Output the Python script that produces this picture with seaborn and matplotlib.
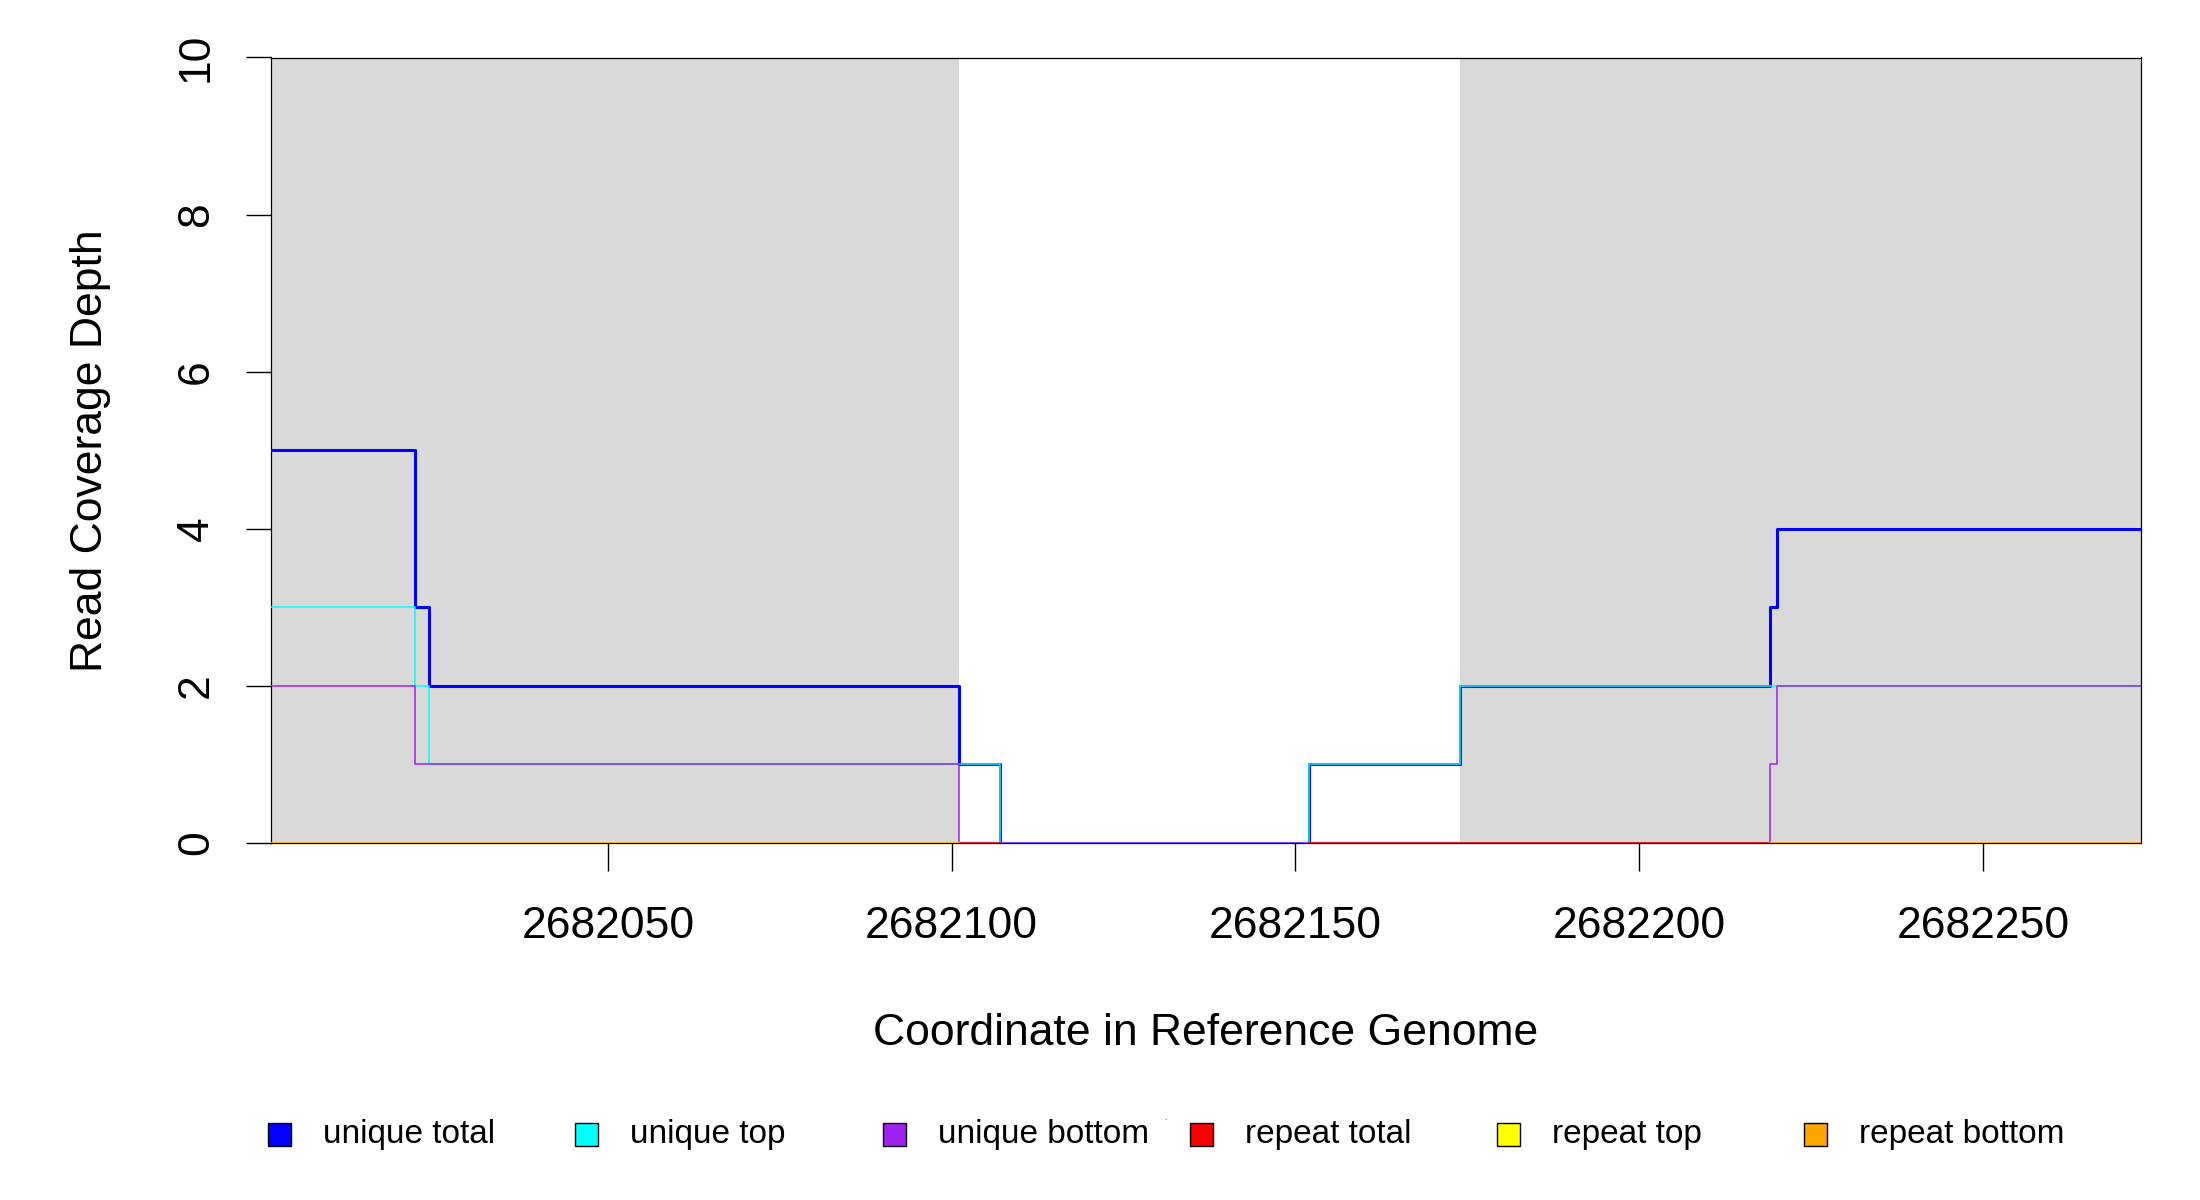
import numpy as np
import pandas as pd
import matplotlib
matplotlib.use("Agg")
import matplotlib.pyplot as plt
import seaborn as sns
from matplotlib.patches import Rectangle

# ---------------- data ----------------
x_start, x_end = 2682001, 2682273
gray_regions = [(2682001, 2682101), (2682174, 2682273)]

unique_total_edges = [2682001, 2682022, 2682024, 2682101, 2682107, 2682152, 2682174, 2682219, 2682220, 2682273]
unique_total_vals = [5, 3, 2, 1, 0, 1, 2, 3, 4]

unique_top_edges = [2682001, 2682022, 2682024, 2682107, 2682152, 2682174, 2682273]
unique_top_vals = [3, 2, 1, 0, 1, 2]

unique_bottom_edges = [2682001, 2682022, 2682101, 2682219, 2682220, 2682273]
unique_bottom_vals = [2, 1, 0, 1, 2]

# repeat series only visible over parts of the window (value 0)
repeat_total_segments = [(2682101, 2682107, 0), (2682152, 2682273, 0)]
repeat_top_segments = [(2682001, 2682101, 0), (2682219, 2682273, 0)]
repeat_bottom_segments = [(2682001, 2682101, 0), (2682219, 2682273, 0)]

x_ticks = [2682050, 2682100, 2682150, 2682200, 2682250]
y_ticks = [0, 2, 4, 6, 8, 10]

legend_labels = ["unique total", "unique top", "unique bottom", "repeat total", "repeat top", "repeat bottom"]
colors = {"unique total": "#0000ff", "unique top": "#00ffff", "unique bottom": "#a020f0",
          "repeat total": "#ff0000", "repeat top": "#ffff00", "repeat bottom": "#ffa500"}

# ---------------- style ----------------
sns.set_theme(style="white")
plt.rcParams["font.family"] = ["Liberation Sans", "DejaVu Sans"]
plt.rcParams["text.color"] = "black"
plt.rcParams["axes.labelcolor"] = "black"
plt.rcParams["xtick.color"] = "black"
plt.rcParams["ytick.color"] = "black"

fig = plt.figure(figsize=(22, 12), dpi=100)
ax = fig.add_axes([271 / 2200, 1 - 843 / 1200, (2141 - 271) / 2200, (843 - 57.5) / 1200])

for a, b in gray_regions:
    ax.axvspan(a, b, ymin=0, ymax=1, color="#d9d9d9", lw=0, zorder=0)


def step_df(edges, vals):
    return pd.DataFrame({"x": edges, "y": list(vals) + [vals[-1]]})


def draw(df, color, lw):
    sns.lineplot(data=df, x="x", y="y", ax=ax, color=color, lw=lw,
                 drawstyle="steps-post", estimator=None, sort=False, zorder=3)


draw(step_df(unique_total_edges, unique_total_vals), colors["unique total"], 2.2)
draw(step_df(unique_top_edges, unique_top_vals), colors["unique top"], 1.1)
draw(step_df(unique_bottom_edges, unique_bottom_vals), colors["unique bottom"], 1.1)
for segs, name in [(repeat_total_segments, "repeat total"),
                   (repeat_top_segments, "repeat top"),
                   (repeat_bottom_segments, "repeat bottom")]:
    for a, b, v in segs:
        draw(step_df([a, b], [v]), colors[name], 1.1)

ax.set_xlim(x_start, x_end)
ax.set_ylim(0, 10)
ax.set_xticks(x_ticks, labels=[str(t) for t in x_ticks])
ax.set_yticks(y_ticks, labels=[str(t) for t in y_ticks], rotation=90, va="center")
ax.tick_params(axis="x", direction="out", length=20, width=1.0, pad=25, labelsize=32, color="black",
               labelcolor="black")
ax.tick_params(axis="y", direction="out", length=18, width=1.0, pad=21, labelsize=32, color="black",
               labelcolor="black")
ax.tick_params(bottom=True, left=True)
for s in ax.spines.values():
    s.set_color("black")
    s.set_linewidth(0.9)
ax.set_xlabel("Coordinate in Reference Genome", fontsize=32, labelpad=48, color="black")
ax.set_ylabel("Read Coverage Depth", fontsize=32, labelpad=47, color="black")
ax.grid(False)

# ---------------- legend (R-style, one row) ----------------
box_cx = [279, 586, 894, 1201, 1508, 1815]
leg_y = 1134
bs = 23
for cx, lab in zip(box_cx, legend_labels):
    fig.patches.append(Rectangle(((cx - bs / 2) / 2200, 1 - (leg_y + bs / 2) / 1200),
                                 bs / 2200, bs / 1200, transform=fig.transFigure,
                                 facecolor=colors[lab], edgecolor="black", lw=1.0))
    fig.text((cx + 44) / 2200, 1 - leg_y / 1200, lab, fontsize=24,
             ha="left", va="center", color="black")
fig.text(1165 / 2200, 1 - 1118 / 1200, ".", fontsize=6, ha="center", va="center", color="black")

fig.savefig("out.png", dpi=100, facecolor="white")
